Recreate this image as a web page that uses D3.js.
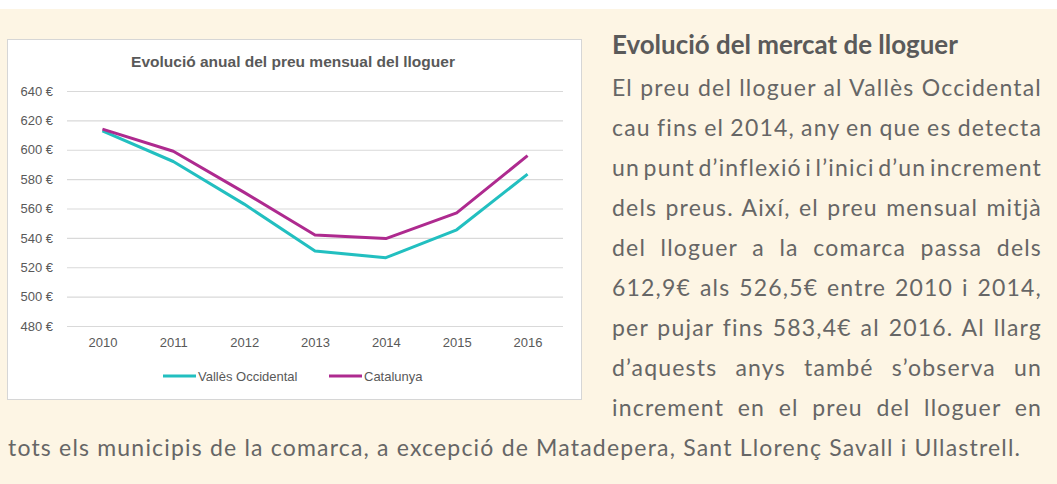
<!DOCTYPE html>
<html>
<head>
<meta charset="utf-8">
<script src="https://cdn.jsdelivr.net/npm/d3@7"></script>
<style>
  body { margin: 0; background: #fff; }
  svg { display: block; }
</style>
</head>
<body>
<svg id="page" width="1057" height="484"></svg>
<script>
// Data
var years = ['2010', '2011', '2012', '2013', '2014', '2015', '2016']
var valles = [612.9, 592, 563, 531, 526.5, 545.5, 583.4]
var catalunya = [614, 599, 571, 542, 539.5, 557, 596]
var yTicks = [480, 500, 520, 540, 560, 580, 600, 620, 640]
var seriesNames = ['Vallès Occidental', 'Catalunya']

var chartTitle = 'Evolució anual del preu mensual del lloguer'
var heading = 'Evolució del mercat de lloguer'
var bodyLines = [
  'El preu del lloguer al Vallès Occidental',
  'cau fins el 2014, any en que es detecta',
  'un punt d’inflexió i l’inici d’un increment',
  'dels preus. Així, el preu mensual mitjà',
  'del lloguer a la comarca passa dels',
  '612,9€ als 526,5€ entre 2010 i 2014,',
  'per pujar fins 583,4€ al 2016. Al llarg',
  'd’aquests anys també s’observa un',
  'increment en el preu del lloguer en'
]
var lastLine = 'tots els municipis de la comarca, a excepció de Matadepera, Sant Llorenç Savall i Ullastrell.'

var cyan = '#22bfc0'
var magenta = '#ae2a8f'
var grey = '#595959'
var chartFont = 'Liberation Sans, Arial, sans-serif'

var svg = d3.select('#page')

// background
svg.append('rect').attr('x', 0).attr('y', 9).attr('width', 1057).attr('height', 475).attr('fill', '#fdf5e4')

// chart box
svg.append('rect').attr('x', 7.5).attr('y', 39.5).attr('width', 574).attr('height', 360)
  .attr('fill', '#fff').attr('stroke', '#d6d6d6')

var x = d3.scalePoint().domain(years).range([67, 563]).padding(0.5)
var y = d3.scaleLinear().domain([480, 640]).range([326, 91])

// title
svg.append('text').attr('x', 293).attr('y', 67).attr('text-anchor', 'middle')
  .attr('font-family', chartFont).attr('font-weight', 'bold')
  .attr('font-size', 15.5).attr('fill', grey).text(chartTitle)

// gridlines + y labels
var yAxis = d3.axisLeft(y).tickValues(yTicks).tickSize(-(563 - 67)).tickPadding(14)
  .tickFormat(function(d){ return d + ' €' })
var gy = svg.append('g').attr('transform', 'translate(67,0)').call(yAxis)
gy.select('.domain').remove()
gy.selectAll('.tick line').attr('stroke', '#d9d9d9').attr('stroke-width', 1.2)
gy.selectAll('.tick text').attr('fill', grey).attr('font-size', 13)
  .attr('font-family', chartFont)

// x labels
var xAxis = d3.axisBottom(x).tickSize(0).tickPadding(12)
var gx = svg.append('g').attr('transform', 'translate(0,326)').call(xAxis)
gx.select('.domain').remove()
gx.selectAll('.tick text').attr('fill', grey).attr('font-size', 13)
  .attr('font-family', chartFont)

// lines
var line = d3.line().x(function(d, i){ return x(years[i]) }).y(function(d){ return y(d) })
svg.append('path').datum(valles).attr('d', line).attr('fill', 'none')
  .attr('stroke', cyan).attr('stroke-width', 3).attr('stroke-linejoin', 'round')
svg.append('path').datum(catalunya).attr('d', line).attr('fill', 'none')
  .attr('stroke', magenta).attr('stroke-width', 3).attr('stroke-linejoin', 'round')

// legend
var legend = [
  {name: seriesNames[0], color: cyan, x: 163},
  {name: seriesNames[1], color: magenta, x: 329}
]
legend.forEach(function(l){
  svg.append('line').attr('x1', l.x).attr('x2', l.x + 33).attr('y1', 376).attr('y2', 376)
    .attr('stroke', l.color).attr('stroke-width', 3)
  svg.append('text').attr('x', l.x + 35).attr('y', 380.5)
    .attr('font-family', chartFont).attr('font-size', 13)
    .attr('fill', grey).text(l.name)
})

// right-hand text
var textFont = 'Lato, sans-serif'
var textColor = '#666666'
var textSize = 23

var h = svg.append('text').attr('x', 612).attr('y', 54)
  .attr('font-family', textFont).attr('font-weight', 'bold').attr('font-size', 20)
  .attr('fill', '#5a5a5a').text(heading)
var hw = h.node().getComputedTextLength()
h.attr('font-size', 20 * 346 / hw)

// letter spacing from the un-justified last line
var last = svg.append('text').attr('x', 8).attr('y', 456)
  .attr('font-family', textFont).attr('font-size', textSize)
  .attr('fill', textColor).text(lastLine)
var lw = last.node().getComputedTextLength()
var ls = (1012 - lw) / (lastLine.length - 1)
last.attr('letter-spacing', ls)

// justify a line by word spacing
var justify = function(sel, width){
  var natural = sel.node().getComputedTextLength()
  var spaces = sel.text().split(' ').length - 1
  if (spaces > 0) sel.attr('word-spacing', (width - natural) / spaces)
}

bodyLines.forEach(function(t, i){
  var el = svg.append('text').attr('x', 612).attr('y', 96 + i * 40)
    .attr('font-family', textFont).attr('font-size', textSize)
    .attr('letter-spacing', ls).attr('fill', textColor).text(t)
  justify(el, 430)
})
</script>
</body>
</html>
